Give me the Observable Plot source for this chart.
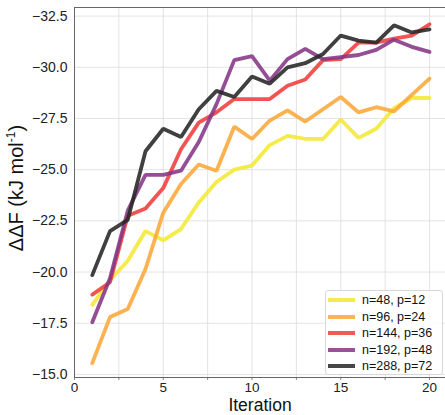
<!DOCTYPE html>
<html><head><meta charset="utf-8">
<script src="https://cdn.jsdelivr.net/npm/d3@7"></script>
<script src="https://cdn.jsdelivr.net/npm/@observablehq/plot@0.6"></script>
<style>
body{margin:0;background:#fff;font-family:"Liberation Sans",Arial,sans-serif;}
#wrap{position:relative;width:445px;height:415px;overflow:hidden;}
#ylab{position:absolute;left:16px;top:188px;transform:translate(-50%,-50%) rotate(-90deg);font-size:20px;white-space:nowrap;color:#111;}
#ylab sup{font-size:12px;}
#xlab{position:absolute;left:260px;top:394.6px;transform:translateX(-50%);font-size:17.5px;line-height:normal;white-space:nowrap;color:#111;}
.legend{position:absolute;left:325px;top:290px;width:118px;height:85px;border:1px solid #d8d8d8;border-radius:3px;background:rgba(255,255,255,0.85);box-sizing:border-box;}
.row{position:absolute;left:0;height:16px;display:flex;align-items:center;font-size:12.5px;color:#111;white-space:nowrap;}
.sw{width:27px;height:4px;margin-left:2px;margin-right:7px;opacity:0.85;}
</style></head>
<body><div id="wrap"></div>
<script>
const iterations = [1,2,3,4,5,6,7,8,9,10,11,12,13,14,15,16,17,18,19,20];
const seriesNames = ["n=48, p=12","n=96, p=24","n=144, p=36","n=192, p=48","n=288, p=72"];
const seriesColors = ["#f2e833","#fca738","#f03c3c","#843585","#262626"];
const dF_n48  = [-18.4,-19.6,-20.55,-22.0,-21.55,-22.1,-23.4,-24.4,-25.0,-25.2,-26.2,-26.65,-26.5,-26.5,-27.45,-26.55,-27.0,-28.0,-28.5,-28.5];
const dF_n96  = [-15.55,-17.8,-18.2,-20.15,-22.9,-24.3,-25.25,-24.95,-27.1,-26.5,-27.4,-27.9,-27.35,-27.95,-28.55,-27.8,-28.05,-27.85,-28.65,-29.45];
const dF_n144 = [-18.9,-19.5,-22.75,-23.1,-24.1,-26.0,-27.3,-27.8,-28.45,-28.45,-28.45,-29.1,-29.4,-30.35,-30.4,-31.2,-31.2,-31.4,-31.55,-32.1];
const dF_n192 = [-17.55,-19.7,-23.0,-24.75,-24.75,-24.95,-26.35,-28.2,-30.35,-30.55,-29.35,-30.4,-30.9,-30.4,-30.5,-30.6,-30.85,-31.35,-31.0,-30.75];
const dF_n288 = [-19.85,-22.0,-22.55,-25.9,-27.0,-26.6,-27.95,-28.85,-28.55,-29.55,-29.2,-30.0,-30.2,-30.65,-31.55,-31.3,-31.2,-32.05,-31.7,-31.85];
const yTicks = [-32.5,-30,-27.5,-25,-22.5,-20,-17.5,-15];
const xTicks = [0,2.5,5,7.5,10,12.5,15,17.5,20];
const xLabeled = [0,5,10,15,20];

const allSeries = [dF_n48, dF_n96, dF_n144, dF_n192, dF_n288];
const rows = [];
allSeries.forEach((vals, s) => vals.forEach((v, i) => rows.push({it: iterations[i], dF: v, series: seriesNames[s]})));

const chart = Plot.plot({
  width: 445, height: 415,
  marginLeft: 74, marginRight: 0, marginTop: 7, marginBottom: 38,
  style: {fontFamily: '"Liberation Sans", Arial, sans-serif', fontSize: "14px", color: "#222", background: "#fff"},
  x: {domain: [0, 20.9]},
  y: {domain: [-14.85, -32.92]},
  color: {domain: seriesNames, range: seriesColors},
  marks: [
    Plot.gridX(xTicks, {stroke: "#dcdcdc", strokeOpacity: 1, strokeWidth: 0.8}),
    Plot.gridY(yTicks, {stroke: "#dcdcdc", strokeOpacity: 1, strokeWidth: 0.8}),
    Plot.axisX(xTicks, {tickSize: 3, tickPadding: 2, stroke: "#888", tickFormat: d => xLabeled.includes(d) ? String(d) : "", label: null, fontSize: 13.5}),
    Plot.axisY(yTicks, {tickSize: 0, tickPadding: 7, tickFormat: d3.format(".1f"), label: null, fontSize: 14}),
    Plot.frame({stroke: "#666", strokeWidth: 1}),
    Plot.line(rows, {x: "it", y: "dF", z: "series", stroke: "series", strokeWidth: 3.8, strokeOpacity: 0.88, strokeLinejoin: "miter"})
  ]
});
const wrap = document.getElementById("wrap");
wrap.appendChild(chart);

const yl = document.createElement("div"); yl.id = "ylab";
yl.innerHTML = "ΔΔF (kJ mol<sup>-1</sup>)";
wrap.appendChild(yl);
const xl = document.createElement("div"); xl.id = "xlab"; xl.textContent = "Iteration";
wrap.appendChild(xl);

const lg = document.createElement("div"); lg.className = "legend";
seriesNames.forEach((name, i) => {
  const r = document.createElement("div"); r.className = "row";
  r.style.top = (1 + i * 16.5) + "px";
  const sw = document.createElement("div"); sw.className = "sw"; sw.style.background = seriesColors[i];
  const t = document.createElement("span"); t.textContent = name;
  r.appendChild(sw); r.appendChild(t); lg.appendChild(r);
});
wrap.appendChild(lg);
</script>
</body></html>
